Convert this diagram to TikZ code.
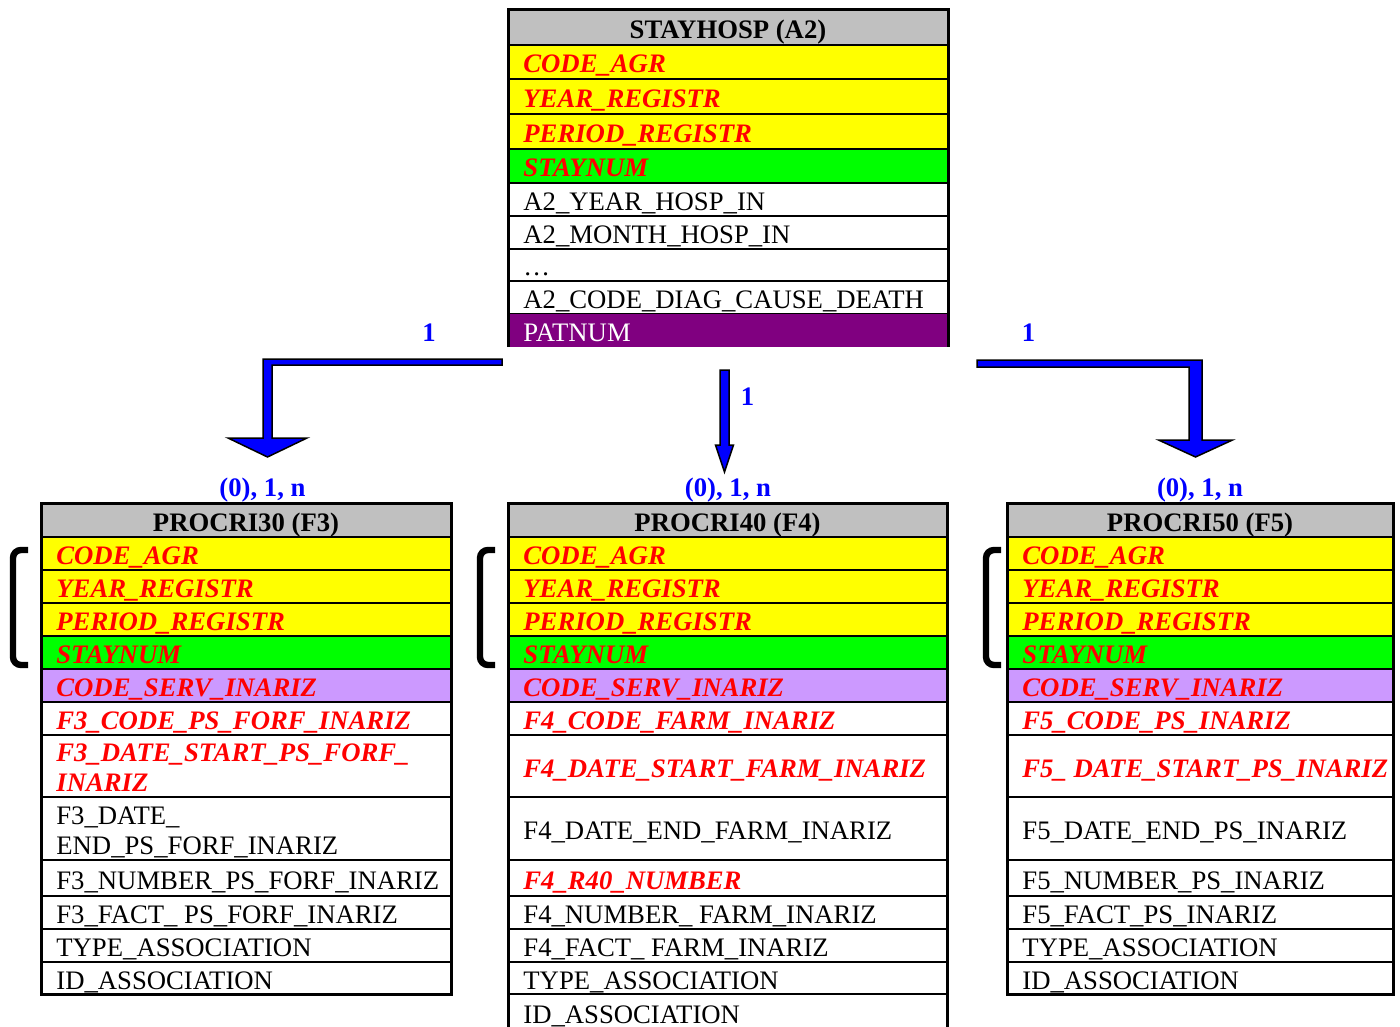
\documentclass[tikz,border=0pt]{standalone}
\usepackage{fontspec}
\setmainfont{Liberation Serif}
\usepackage{tikz}
\usetikzlibrary{calc}
\definecolor{hdgray}{HTML}{C0C0C0}
\definecolor{keyyellow}{HTML}{FFFF00}
\definecolor{keygreen}{HTML}{00FF00}
\definecolor{servlilac}{HTML}{CC99FF}
\definecolor{patpurple}{HTML}{800080}
\definecolor{relblue}{HTML}{0000FF}
\newcommand{\cellfont}{\fontsize{13.35}{15.5}\selectfont}

\begin{document}
\begin{tikzpicture}[x=0.5pt,y=-0.5pt,
		cell/.style={draw=black,line width=1pt},
		tblframe/.style={draw=black,line width=1.5pt},
		headtxt/.style={inner sep=0pt,font=\cellfont\bfseries},
		keytxt/.style={inner sep=0pt,text=red,font=\cellfont\bfseries\itshape},
		plaintxt/.style={inner sep=0pt,text=black,font=\cellfont},
		pattxt/.style={inner sep=0pt,text=white,font=\cellfont},
		cardtxt/.style={inner sep=0pt,text=relblue,font=\cellfont\bfseries},
		fatarrow/.style={fill=relblue,draw=black,line width=0.75pt},
		keybrace/.style={draw=black,line width=3.2pt,rounded corners=4pt}
		]
		\useasboundingbox (0,0) rectangle (1400,1026);
		
		% draw STAYHOSP (A2)
		\draw[cell,fill=hdgray] (508,10) rectangle (948,45);
		\node[headtxt,anchor=base] (a2h) at (728,38.5) {STAYHOSP (A2)};
		\foreach \ya/\yb/\fc/\ts/\txt [count=\i] in {
			45/79/keyyellow/keytxt/CODE\_AGR,
			79/114/keyyellow/keytxt/YEAR\_REGISTR,
			114/149/keyyellow/keytxt/PERIOD\_REGISTR,
			149/183/keygreen/keytxt/STAYNUM,
			183/216/white/plaintxt/A2\_YEAR\_HOSP\_IN,
			216/249/white/plaintxt/A2\_MONTH\_HOSP\_IN,
			249/281/white/plaintxt/…,
			281/314/white/plaintxt/A2\_CODE\_DIAG\_CAUSE\_DEATH} {
			\draw[cell,fill=\fc] (508,\ya) rectangle (948,\yb);
			\node[\ts,anchor=base west] (a2r\i) at (523,{(\ya+\yb)/2+11}) {\txt};
		}
		\fill[patpurple] (508,314) rectangle (948,347);
		\node[pattxt,anchor=base west] (a2pat) at (523,341.5) {PATNUM};
		\draw[tblframe] (508,347) |- (948,10) -- (948,347);
		
		% draw headers, key rows and braces of the three PROCRI tables
		\foreach \tb/\xl/\xr/\xb/\hd in {
			f3/41/451/13/{PROCRI30 (F3)},
			f4/508/947/480/{PROCRI40 (F4)},
			f5/1007/1393/986/{PROCRI50 (F5)}} {
			\draw[cell,fill=hdgray] (\xl,503) rectangle (\xr,537);
			\node[headtxt,anchor=base] (\tb-h) at ({(\xl+\xr)/2},531.5) {\hd};
			\foreach \ya/\yb/\fc/\txt [count=\i] in {
				537/570/keyyellow/CODE\_AGR,
				570/603/keyyellow/YEAR\_REGISTR,
				603/636/keyyellow/PERIOD\_REGISTR,
				636/669/keygreen/STAYNUM,
				669/702/servlilac/CODE\_SERV\_INARIZ} {
				\draw[cell,fill=\fc] (\xl,\ya) rectangle (\xr,\yb);
				\node[keytxt,anchor=base west] (\tb-k\i) at (\xl+15,{(\ya+\yb)/2+11}) {\txt};
			}
			\draw[keybrace] (\xb+15,550) -- (\xb,550) -- (\xb,665) -- (\xb+15,665);
		}
		
		% draw PROCRI30 (F3) fields
		\foreach \ya/\yb/\ts/\txt [count=\i] in {
			702/735/keytxt/F3\_CODE\_PS\_FORF\_INARIZ,
			860/896/plaintxt/F3\_NUMBER\_PS\_FORF\_INARIZ,
			896/929/plaintxt/F3\_FACT\_ PS\_FORF\_INARIZ,
			929/962/plaintxt/TYPE\_ASSOCIATION,
			962/994/plaintxt/ID\_ASSOCIATION} {
			\draw[cell,fill=white] (41,\ya) rectangle (451,\yb);
			\node[\ts,anchor=base west] (f3-r\i) at (56,{(\ya+\yb)/2+11}) {\txt};
		}
		\draw[cell,fill=white] (41,735) rectangle (451,797);
		\node[keytxt,anchor=base west] (f3-ds1) at (56,761.5) {F3\_DATE\_START\_PS\_FORF\_};
		\node[keytxt,anchor=base west] (f3-ds2) at (56,791.5) {INARIZ};
		\draw[cell,fill=white] (41,797) rectangle (451,860);
		\node[plaintxt,anchor=base west] (f3-de1) at (56,824.5) {F3\_DATE\_};
		\node[plaintxt,anchor=base west] (f3-de2) at (56,854.5) {END\_PS\_FORF\_INARIZ};
		
		% draw PROCRI40 (F4) fields
		\foreach \ya/\yb/\ts/\txt [count=\i] in {
			702/735/keytxt/F4\_CODE\_FARM\_INARIZ,
			735/797/keytxt/F4\_DATE\_START\_FARM\_INARIZ,
			797/860/plaintxt/F4\_DATE\_END\_FARM\_INARIZ,
			860/896/keytxt/F4\_R40\_NUMBER,
			896/929/plaintxt/F4\_NUMBER\_ FARM\_INARIZ,
			929/962/plaintxt/F4\_FACT\_ FARM\_INARIZ,
			962/994/plaintxt/TYPE\_ASSOCIATION,
			994/1030/plaintxt/ID\_ASSOCIATION} {
			\draw[cell,fill=white] (508,\ya) rectangle (947,\yb);
			\node[\ts,anchor=base west] (f4-r\i) at (523,{(\ya+\yb)/2+11}) {\txt};
		}
		
		% draw PROCRI50 (F5) fields
		\foreach \ya/\yb/\ts/\txt [count=\i] in {
			702/735/keytxt/F5\_CODE\_PS\_INARIZ,
			735/797/keytxt/F5\_ DATE\_START\_PS\_INARIZ,
			797/860/plaintxt/F5\_DATE\_END\_PS\_INARIZ,
			860/896/plaintxt/F5\_NUMBER\_PS\_INARIZ,
			896/929/plaintxt/F5\_FACT\_PS\_INARIZ,
			929/962/plaintxt/TYPE\_ASSOCIATION,
			962/994/plaintxt/ID\_ASSOCIATION} {
			\draw[cell,fill=white] (1007,\ya) rectangle (1393,\yb);
			\node[\ts,anchor=base west] (f5-r\i) at (1022,{(\ya+\yb)/2+11}) {\txt};
		}
		
		\foreach \xl/\xr/\ye in {41/451/994, 508/947/1030, 1007/1393/994}
		\draw[tblframe] (\xl,503) rectangle (\xr,\ye);
		
		% draw cardinalities
		\node[cardtxt] (one3) at (429,332.5) {1};
		\node[cardtxt] (one4) at (747.5,396.5) {1};
		\node[cardtxt] (one5) at (1028.5,332.5) {1};
		\node[cardtxt] (many3) at (262.5,490) {(0), 1, n};
		\node[cardtxt] (many4) at (728,490) {(0), 1, n};
		\node[cardtxt] (many5) at (1200,490) {(0), 1, n};
		
		% draw relation arrows
		\coordinate (s3) at (502,362);
		\coordinate (b3) at (267.5,362);
		\coordinate (t3) at (267.5,457);
		\filldraw[fatarrow] ($(s3)+(0,-3)$) -- ($(b3)+(-4.5,-3)$) -- ($(t3)+(-4.5,-19)$) -- ($(t3)+(-39.5,-19)$) -- (t3)
			-- ($(t3)+(39.5,-19)$) -- ($(t3)+(4.5,-19)$) -- ($(b3)+(4.5,3)$) -- ($(s3)+(0,3)$) -- cycle;
		\coordinate (s4) at (724.5,370);
		\coordinate (t4) at (724.5,472);
		\filldraw[fatarrow] ($(s4)+(-4.5,0)$) -- ($(t4)+(-4.5,-27)$) -- ($(t4)+(-9,-27)$) -- (t4)
			-- ($(t4)+(9,-27)$) -- ($(t4)+(4.5,-27)$) -- ($(s4)+(4.5,0)$) -- cycle;
		\coordinate (s5) at (977,363.5);
		\coordinate (b5) at (1195.5,363.5);
		\coordinate (t5) at (1195.5,457);
		\filldraw[fatarrow] ($(s5)+(0,-3.5)$) -- ($(b5)+(6.5,-3.5)$) -- ($(t5)+(6.5,-17)$) -- ($(t5)+(37,-17)$) -- (t5)
			-- ($(t5)+(-37,-17)$) -- ($(t5)+(-6.5,-17)$) -- ($(b5)+(-6.5,3.5)$) -- ($(s5)+(0,3.5)$) -- cycle;
	\end{tikzpicture}
\end{document}
